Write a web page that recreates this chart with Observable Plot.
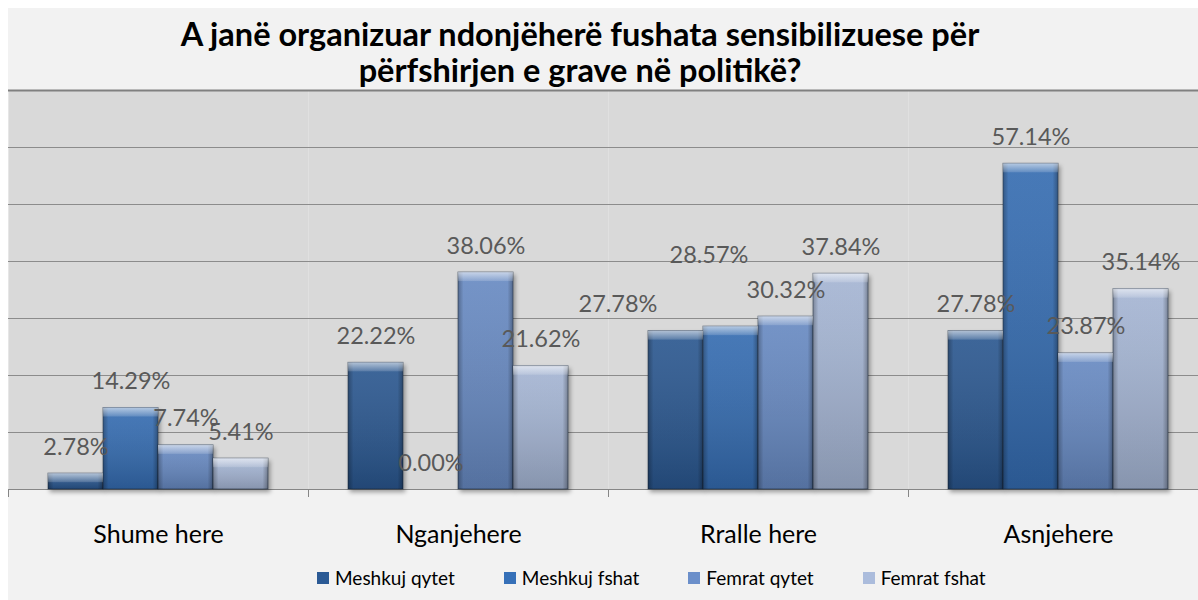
<!DOCTYPE html>
<html>
<head>
<meta charset="utf-8">
<script src="https://cdn.jsdelivr.net/npm/d3@7"></script>
<script src="https://cdn.jsdelivr.net/npm/@observablehq/plot@0.6"></script>
<style>
  html, body { margin: 0; padding: 0; background: #ffffff; width: 1198px; height: 600px; overflow: hidden; }
  #bg { position: absolute; left: 8px; top: 8px; width: 1190px; height: 592px; background: #f2f2f2; }
  #chart { position: absolute; left: 0; top: 0; width: 1198px; height: 600px; }
  #title { position: absolute; left: 0; top: 16px; width: 1160px; text-align: center;
           font-family: Lato, "Open Sans", sans-serif; font-weight: bold; font-size: 32.5px; line-height: 36px; color: #000; z-index: 2; }
  #legend { position: absolute; left: 317px; top: 561px; z-index: 2; }
  .lg-swatch { margin-right: 49px !important; }
  .lg-swatch > svg { margin-right: 6px !important; }
  .bar-base rect { filter: drop-shadow(2px 3px 2px rgba(0,0,0,0.35)); }
</style>
</head>
<body>
<div id="bg"></div>
<div id="chart"></div>
<div id="title">A janë organizuar ndonjëherë fushata sensibilizuese për<br>përfshirjen e grave në politikë?</div>
<div id="legend"></div>
<script>
// ---- data ----
const categories = ["Shume here", "Nganjehere", "Rralle here", "Asnjehere"];
const seriesNames = ["Meshkuj qytet", "Meshkuj fshat", "Femrat qytet", "Femrat fshat"];
const meshkujQytet = [2.78, 22.22, 27.78, 27.78];
const meshkujFshat = [14.29, 0.00, 28.57, 57.14];
const femratQytet  = [7.74, 38.06, 30.32, 23.87];
const femratFshat  = [5.41, 21.62, 37.84, 35.14];
const yTicks = [0, 10, 20, 30, 40, 50, 60, 70];

// ---- style ----
const seriesColors = ["#2b5a95", "#3670b8", "#6b8fca", "#abbcdc"];
// data labels that were moved by hand in the original
const labelNudges = [
  {category: "Rralle here", series: "Meshkuj qytet", dx: -58, dy: 0},
  {category: "Rralle here", series: "Meshkuj fshat", dx: -22, dy: -45}
];

const valuesBySeries = [meshkujQytet, meshkujFshat, femratQytet, femratFshat];
const rows = categories.flatMap((c, i) =>
  seriesNames.map((s, j) => ({category: c, series: s, value: valuesBySeries[j][i]})));

const isNudged = d => labelNudges.some(n => n.category === d.category && n.series === d.series);

function gradientDefs() {
  const defs = d3.create("svg:defs");
  const v = defs.append("linearGradient").attr("id", "vshade")
    .attr("x1", 0).attr("y1", 0).attr("x2", 0).attr("y2", 1);
  v.append("stop").attr("offset", 0).attr("stop-color", "#ffffff").attr("stop-opacity", 0.10);
  v.append("stop").attr("offset", 1).attr("stop-color", "#000000").attr("stop-opacity", 0.18);
  const h = defs.append("linearGradient").attr("id", "hbevel")
    .attr("x1", 0).attr("y1", 0).attr("x2", 1).attr("y2", 0);
  h.append("stop").attr("offset", 0).attr("stop-color", "#000").attr("stop-opacity", 0.30);
  h.append("stop").attr("offset", 0.1).attr("stop-color", "#000").attr("stop-opacity", 0.04);
  h.append("stop").attr("offset", 0.9).attr("stop-color", "#000").attr("stop-opacity", 0.04);
  h.append("stop").attr("offset", 1).attr("stop-color", "#000").attr("stop-opacity", 0.32);
  const t = defs.append("linearGradient").attr("id", "topbevel")
    .attr("x1", 0).attr("y1", 0).attr("x2", 0).attr("y2", 1);
  t.append("stop").attr("offset", 0).attr("stop-color", "#ffffff").attr("stop-opacity", 0.6);
  t.append("stop").attr("offset", 1).attr("stop-color", "#ffffff").attr("stop-opacity", 0.15);
  return defs.node();
}

function boundaryTicks(index, scales, values, dimensions) {
  const g = d3.create("svg:g");
  const fx = scales.fx;
  if (!fx) return g.node();
  const bw = typeof fx.bandwidth === "function" ? fx.bandwidth() : fx.bandwidth;
  const yb = dimensions.height - dimensions.marginBottom;
  const edges = categories.map(c => fx(c)).concat([fx(categories[categories.length - 1]) + bw]);
  g.selectAll("line").data(edges).join("line")
    .attr("x1", d => d + 0.5).attr("x2", d => d + 0.5)
    .attr("y1", yb).attr("y2", yb + 8)
    .attr("stroke", "#868686").attr("stroke-width", 1);
  return g.node();
}

const labelOpts = {
  fx: "category", x: "series", y: "value",
  text: d => d.value.toFixed(2) + "%",
  lineAnchor: "bottom", dy: -19,
  fill: "#595959", fontSize: 23.5, fontFamily: "Lato, 'Open Sans', sans-serif"
};

const plot = Plot.plot({
  width: 1198,
  height: 600,
  marginTop: 90,
  marginBottom: 111,
  marginLeft: 8,
  marginRight: -10,
  style: {background: "transparent", fontFamily: "Lato, 'Open Sans', sans-serif", overflow: "hidden"},
  fx: {domain: categories, padding: 0, label: null},
  x: {domain: seriesNames, paddingInner: 0, paddingOuter: 0.727, axis: null},
  y: {domain: [0, 70], axis: null},
  color: {domain: seriesNames, range: seriesColors},
  marks: [
    gradientDefs,
    Plot.frame({fill: "#d9d9d9", stroke: null}),
    Plot.ruleY(yTicks.filter(d => d > 0 && d < 70), {stroke: "#8c8c8c", strokeWidth: 1}),
    Plot.ruleY([70], {stroke: "#808080", strokeWidth: 2}),
    Plot.ruleY([0], {stroke: "#868686", strokeWidth: 1}),
    Plot.barY(rows, {fx: "category", x: "series", y: "value", fill: "series",
      stroke: "#1c2c44", strokeOpacity: 0.55, strokeWidth: 1, className: "bar-base"}),
    Plot.barY(rows, {fx: "category", x: "series", y: "value", fill: "url(#vshade)"}),
    Plot.barY(rows, {fx: "category", x: "series", y: "value", fill: "url(#hbevel)"}),
    Plot.barY(rows.filter(d => d.value > 0), {fx: "category", x: "series", y1: "value", y2: "value",
      insetBottom: -9, fill: "url(#topbevel)"}),
    Plot.text(rows.filter(d => !isNudged(d)), labelOpts),
    ...labelNudges.map(n => Plot.text(
      rows.filter(d => d.category === n.category && d.series === n.series),
      {...labelOpts, dx: n.dx, dy: labelOpts.dy + n.dy})),
    Plot.axisFx({anchor: "bottom", tickSize: 0, tickPadding: 36, fontSize: 25, fill: "#000", label: null}),
    boundaryTicks
  ]
});
document.getElementById("chart").appendChild(plot);

const legend = plot.legend("color", {
  swatchSize: 12,
  className: "lg",
  style: {fontFamily: "Lato, 'Open Sans', sans-serif", fontSize: "19px", color: "#000"}
});
if (legend) document.getElementById("legend").appendChild(legend);
</script>
</body>
</html>
